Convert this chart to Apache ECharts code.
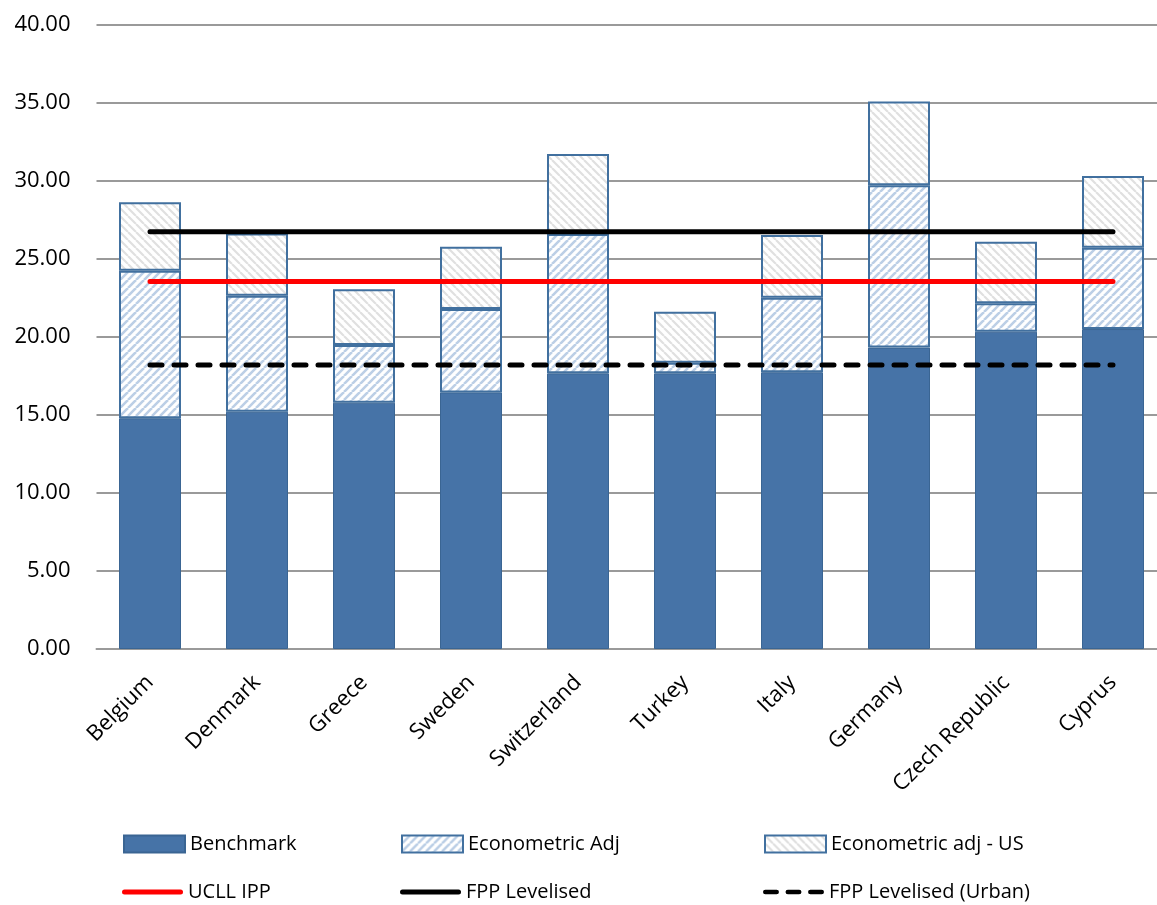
<!DOCTYPE html>
<html>
<head>
<meta charset="utf-8">
<script src="https://cdn.jsdelivr.net/npm/echarts@6/dist/echarts.min.js"></script>
<style>
html,body{margin:0;padding:0;background:#fff;overflow:hidden;}
#chart{width:1170px;height:905px;}
</style>
</head>
<body>
<div id="chart"></div>
<script>
// ---- Data ----
const categories = ['Belgium','Denmark','Greece','Sweden','Switzerland','Turkey','Italy','Germany','Czech Republic','Cyprus'];
const benchmark   = [14.79, 15.21, 15.79, 16.45, 17.67, 17.67, 17.74, 19.32, 20.34, 20.51];
const econAdj     = [ 9.46,  7.44,  3.70,  5.34,  8.93,  0.68,  4.78, 10.40,  1.82,  5.21];
const econAdjUS   = [ 4.38,  3.99,  3.57,  4.00,  5.13,  3.27,  4.02,  5.37,  3.95,  4.60];
const ucllIpp     = [23.55, 23.55, 23.55, 23.55, 23.55, 23.55, 23.55, 23.55, 23.55, 23.55];
const fppLevelised      = [26.75, 26.75, 26.75, 26.75, 26.75, 26.75, 26.75, 26.75, 26.75, 26.75];
const fppLevelisedUrban = [18.21, 18.21, 18.21, 18.21, 18.21, 18.21, 18.21, 18.21, 18.21, 18.21];
const yTicks = [0, 5, 10, 15, 20, 25, 30, 35, 40];

// ---- Hatch patterns ----
function makeHatch(color, dir, size, lw) {
  const c = document.createElement('canvas');
  c.width = size; c.height = size;
  const ctx = c.getContext('2d');
  ctx.fillStyle = '#ffffff';
  ctx.fillRect(0, 0, size, size);
  ctx.strokeStyle = color;
  ctx.lineWidth = lw;
  ctx.beginPath();
  for (let k = -1; k <= 1; k++) {
    if (dir === '/') {
      ctx.moveTo(k * size, size);
      ctx.lineTo(k * size + size, 0);
    } else {
      ctx.moveTo(k * size, 0);
      ctx.lineTo(k * size + size, size);
    }
  }
  ctx.stroke();
  return c;
}
const blueHatch = { image: makeHatch('#BCCFE6', '/', 8, 2.6), repeat: 'repeat' };
const grayHatch = { image: makeHatch('#E0E0E0', '\\', 8, 2.2), repeat: 'repeat' };

const FONT = 'Open Sans';
const chart = echarts.init(document.getElementById('chart'), null, { renderer: 'canvas' });

function legendAt(name, left, top, icon, h) {
  return {
    data: [name],
    left: left, top: top,
    padding: 0,
    icon: icon,
    itemWidth: 61, itemHeight: h || 17,
    selectedMode: false,
    textStyle: { fontFamily: FONT, fontSize: 20, color: '#000' }
  };
}
const solidIcon  = 'path://M2.5,0 L58.5,0 A2.5,2.5 0 0 1 58.5,5 L2.5,5 A2.5,2.5 0 0 1 2.5,0 Z';
const dashedIcon = 'path://M2.5,0 L14.5,0 A2.5,2.5 0 0 1 14.5,5 L2.5,5 A2.5,2.5 0 0 1 2.5,0 Z M26.5,0 L38.5,0 A2.5,2.5 0 0 1 38.5,5 L26.5,5 A2.5,2.5 0 0 1 26.5,0 Z M50.5,0 L62.5,0 A2.5,2.5 0 0 1 62.5,5 L50.5,5 A2.5,2.5 0 0 1 50.5,0 Z';

const option = {
  backgroundColor: '#ffffff',
  animation: false,
  grid: { left: 96.5, top: 25, width: 1070, height: 624, containLabel: false },
  legend: [
    legendAt('Benchmark', 123, 834, 'rect'),
    legendAt('Econometric Adj', 401, 834, 'rect'),
    legendAt('Econometric adj - US', 764, 834, 'rect'),
    legendAt('UCLL IPP', 122, 882, solidIcon, 5),
    legendAt('FPP Levelised', 400, 882, solidIcon, 5),
    legendAt('FPP Levelised (Urban)', 763, 882, dashedIcon, 5)
  ],
  xAxis: {
    type: 'category',
    data: categories,
    axisLine: { lineStyle: { color: '#9A9A9A', width: 2 } },
    axisTick: { show: false },
    axisLabel: {
      rotate: 45, margin: 30, interval: 0,
      fontFamily: FONT, fontSize: 22, color: '#000'
    }
  },
  yAxis: {
    type: 'value',
    min: yTicks[0], max: yTicks[yTicks.length - 1], interval: 5,
    axisLine: { show: false },
    axisTick: { show: false },
    splitLine: { lineStyle: { color: '#9A9A9A', width: 2 } },
    axisLabel: {
      margin: 26, fontFamily: FONT, fontSize: 22, color: '#000',
      formatter: v => v.toFixed(2)
    }
  },
  series: [
    {
      name: 'Benchmark', type: 'bar', stack: 'total', barWidth: 62,
      data: benchmark,
      itemStyle: { color: '#4673A7', borderColor: '#3A6593', borderWidth: 1 }
    },
    {
      name: 'Econometric Adj', type: 'bar', stack: 'total', barWidth: 62,
      data: econAdj,
      itemStyle: { color: blueHatch, borderColor: '#41709F', borderWidth: 2 }
    },
    {
      name: 'Econometric adj - US', type: 'bar', stack: 'total', barWidth: 62,
      data: econAdjUS,
      itemStyle: { color: grayHatch, borderColor: '#41709F', borderWidth: 2 }
    },
    {
      name: 'UCLL IPP', type: 'line', data: ucllIpp, symbol: 'none',
      itemStyle: { color: '#FF0000' },
      lineStyle: { color: '#FF0000', width: 5, cap: 'round' }
    },
    {
      name: 'FPP Levelised', type: 'line', data: fppLevelised, symbol: 'none',
      itemStyle: { color: '#000000' },
      lineStyle: { color: '#000000', width: 5, cap: 'round' }
    },
    {
      name: 'FPP Levelised (Urban)', type: 'line', data: fppLevelisedUrban, symbol: 'none',
      itemStyle: { color: '#000000' },
      lineStyle: { color: '#000000', width: 5, cap: 'round', type: [12, 12] }
    }
  ]
};
chart.setOption(option);
</script>
</body>
</html>
